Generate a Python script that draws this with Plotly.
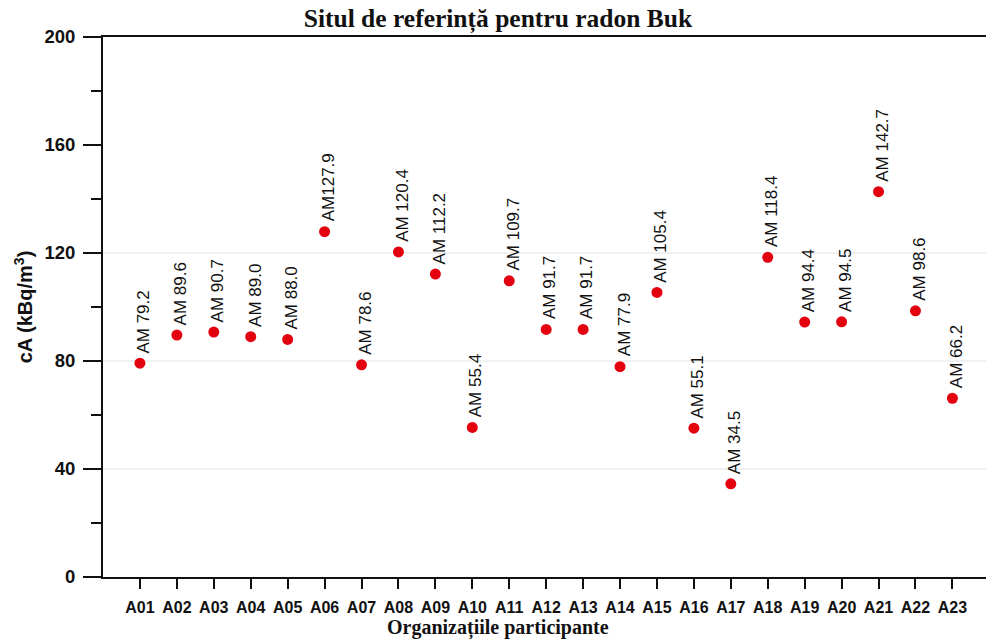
import plotly.graph_objects as go

# Participating organisations and their reported activity concentrations (kBq/m3)
organisations = ["A01", "A02", "A03", "A04", "A05", "A06", "A07", "A08", "A09", "A10",
                 "A11", "A12", "A13", "A14", "A15", "A16", "A17", "A18", "A19", "A20",
                 "A21", "A22", "A23"]
am_values = [79.2, 89.6, 90.7, 89.0, 88.0, 127.9, 78.6, 120.4, 112.2, 55.4,
             109.7, 91.7, 91.7, 77.9, 105.4, 55.1, 34.5, 118.4, 94.4, 94.5,
             142.7, 98.6, 66.2]
label_prefix = ["AM "] * 5 + ["AM"] + ["AM "] * 17

y_major = [0, 40, 80, 120, 160, 200]
y_minor = [20, 60, 100, 140, 180]
grid_values = [40, 80, 120]

SANS = "Arial, Liberation Sans, sans-serif"
SERIF = "Times New Roman, Liberation Serif, serif"
INK = "#111111"

fig = go.Figure()

fig.add_trace(go.Scatter(
    x=organisations,
    y=am_values,
    mode="markers",
    marker=dict(size=11, color="#e3000f", line=dict(width=0)),
    showlegend=False,
    hoverinfo="x+y",
))

for gv in grid_values:
    fig.add_shape(type="line", xref="paper", x0=0, x1=1, yref="y", y0=gv, y1=gv,
                  line=dict(color="#e2e2e2", width=1), layer="below")

# Rotated value labels sitting just above each point
for org, val, pre in zip(organisations, am_values, label_prefix):
    fig.add_annotation(
        x=org, y=val, xref="x", yref="y",
        text=f"{pre}{val:.1f}",
        textangle=-90,
        showarrow=False,
        xanchor="center", yanchor="bottom",
        xshift=4, yshift=8,
        font=dict(family=SANS, size=17, color=INK),
    )

# Horizontal axis caption
fig.add_annotation(
    x=0.447, y=0, xref="paper", yref="paper",
    text="<b>Organizațiile participante</b>",
    showarrow=False, xanchor="center", yanchor="middle", yshift=-51,
    font=dict(family=SERIF, size=20, color=INK),
)

fig.update_layout(
    width=986, height=640,
    margin=dict(l=103, r=0, t=37, b=63, autoexpand=False),
    paper_bgcolor="white",
    plot_bgcolor="white",
    title=dict(
        text="<b>Situl de referință pentru radon Buk</b>",
        font=dict(family=SERIF, size=25.5, color=INK),
        x=0.505, xref="container", xanchor="center",
        y=0.972, yref="container", yanchor="middle",
    ),
    xaxis=dict(
        type="category",
        categoryorder="array", categoryarray=organisations,
        range=[-1.0, 22.91],
        showline=True, linecolor=INK, linewidth=2, mirror=True,
        ticks="outside", ticklen=10, tickwidth=2, tickcolor=INK,
        tickfont=dict(family=SANS, size=16, color=INK, weight="bold"),
        ticklabelstandoff=5,
        showgrid=False, zeroline=False,
    ),
    yaxis=dict(
        range=[0, 200],
        tickvals=y_major,
        showline=True, linecolor=INK, linewidth=2, mirror=False,
        ticks="outside", ticklen=18, tickwidth=2, tickcolor=INK,
        tickfont=dict(family=SANS, size=18.5, color=INK, weight="bold"),
        ticklabelstandoff=4,
        minor=dict(tickvals=y_minor, ticks="outside", ticklen=10, tickwidth=2,
                   tickcolor=INK, showgrid=False),
        showgrid=False, zeroline=False,
        title=dict(text="<b>cA (kBq/m<sup>3</sup>)</b>",
                   font=dict(family=SANS, size=20, color=INK), standoff=6),
    ),
)

fig.write_html("out.html")
